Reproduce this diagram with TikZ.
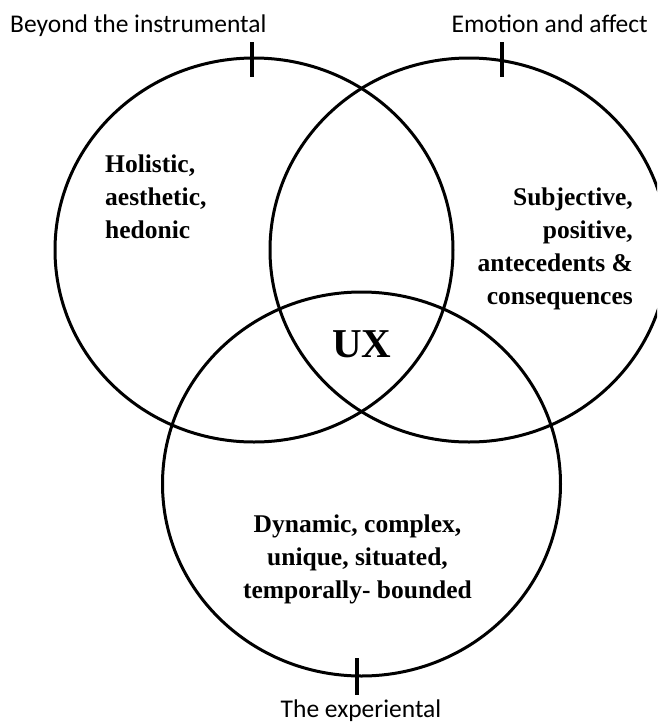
\documentclass[tikz,border=0pt]{standalone}
\usepackage{fontspec}
\setmainfont{Liberation Serif}
\newfontfamily\calfont{Carlito}
\begin{document}
\begin{tikzpicture}[x=1pt,y=-1pt,
  ring/.style={line width=3pt},
  tickmark/.style={line width=4.5pt},
  lab/.style={font=\calfont\fontsize{25.5}{30}\selectfont, inner sep=0pt},
  body/.style={font=\bfseries\fontsize{25.5}{32.8}\selectfont, inner sep=0pt}]
\useasboundingbox (0,0) rectangle (657,724);
\begin{scope}
\clip (0,0) rectangle (657,724);
\coordinate (cl) at (254,250);
\coordinate (cr) at (469,250);
\coordinate (cb) at (361.5,484);
\draw[ring] (cl) ellipse [x radius=199, y radius=192];
\draw[ring] (cr) ellipse [x radius=199, y radius=192];
\draw[ring] (cb) ellipse [x radius=199, y radius=192];
\end{scope}
% tick marks
\coordinate (tla) at (252,42);  \coordinate (tlb) at (252,77);
\coordinate (tra) at (502,42);  \coordinate (trb) at (502,77);
\coordinate (tba) at (357,658); \coordinate (tbb) at (357,695);
\draw[tickmark] (tla) -- (tlb);
\draw[tickmark] (tra) -- (trb);
\draw[tickmark] (tba) -- (tbb);
% outer labels
\node[lab, anchor=base west] (lbeyond) at (10,32) {Beyond the instrumental};
\node[lab, anchor=base east] (lemotion) at (648,32) {Emotion and affect};
\node[lab, anchor=base] (lexp) at (361,717) {The experiental};
% inner texts
\node[body, anchor=north west, align=left] (tleft) at (105,155) {Holistic,\\aesthetic,\\hedonic};
\node[body, anchor=north east, align=right] (tright) at (633,188) {Subjective,\\positive,\\antecedents \&\\consequences};
\node[body, anchor=north, align=center] (tbottom) at (357.5,515) {Dynamic, complex,\\unique, situated,\\temporally- bounded};
\node[font=\bfseries\fontsize{41}{45}\selectfont, inner sep=0pt, anchor=base] (ux) at (362,357) {UX};
\end{tikzpicture}
\end{document}
